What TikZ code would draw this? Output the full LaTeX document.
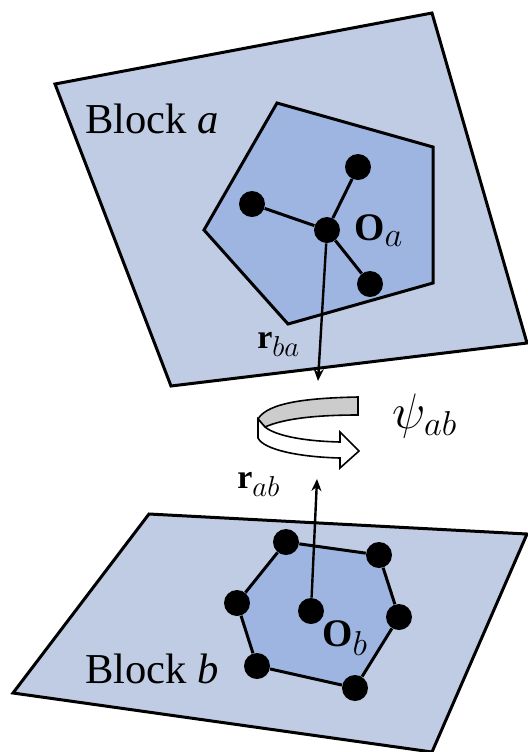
\documentclass[tikz,border=0pt]{standalone}
\usepackage{amsmath, amssymb}
\usepackage{fontspec}
\setmainfont{Liberation Serif}
\usetikzlibrary{arrows.meta}
\DeclareMathSizes{17}{17}{14.5}{10}
\DeclareMathSizes{19.5}{19.5}{16}{10}
\DeclareMathSizes{23}{23}{18}{10}
\definecolor{PlaneBlue}{RGB}{192, 204, 228}
\definecolor{CoreBlue}{RGB}{157, 181, 224}
\definecolor{BandGray}{RGB}{204, 204, 204}
\tikzset{
    edgeline/.style={draw=black, line width=1.5pt, line join=miter},
    atomdot/.style={circle, fill=black, inner sep=0pt, minimum size=13pt},
    bondline/.style={line width=1.5pt},
    vecline/.style={line width=1.2pt, -{Stealth[length=6pt, width=5pt]}},
    bandline/.style={draw=black, line width=0.8pt, line join=miter},
    blocklabel/.style={font=\fontsize{21.3}{25}\selectfont, inner sep=0pt, anchor=base west},
    veclabel/.style={font=\fontsize{17}{20}\selectfont, inner sep=0pt, anchor=base west},
    centerlabel/.style={font=\fontsize{19.5}{23}\selectfont, inner sep=0pt, anchor=base west}
}

\begin{document}
\begin{tikzpicture}[x=0.5pt, y=-0.5pt]
    \useasboundingbox (0, 0) rectangle (527, 752);

    % Block a
    \path[edgeline, fill=PlaneBlue] (55, 84) -- (432, 13) -- (527, 343) -- (171, 386) -- cycle;
    \path[edgeline, fill=CoreBlue] (277, 103) -- (433, 147) -- (433, 283) -- (288, 324) -- (204, 230) -- cycle;
    \node[blocklabel] (labelA) at (85, 133) {Block \textit{a}};

    \node[atomdot] (Oa) at (327, 230) {};
    \node[atomdot] (a1) at (358, 167) {};
    \node[atomdot] (a2) at (252, 204) {};
    \node[atomdot] (a3) at (370, 284) {};
    \draw[bondline] (Oa) -- (a1);
    \draw[bondline] (Oa) -- (a2);
    \draw[bondline] (Oa) -- (a3);
    \node[centerlabel] (labelOa) at (354, 240) {$\mathbf{O}_a$};
    \node[veclabel] (labelRba) at (257, 348) {$\mathbf{r}_{ba}$};

    % Block b
    \path[edgeline, fill=PlaneBlue] (149, 514) -- (527, 534) -- (432, 752) -- (13, 693) -- cycle;
    \path[fill=CoreBlue] (286, 542) -- (379, 555) -- (399, 617) -- (355, 688) -- (257, 666) -- (237, 603) -- cycle;
    \node[blocklabel] (labelB) at (85, 683) {Block \textit{b}};

    \node[atomdot] (b1) at (286, 542) {};
    \node[atomdot] (b2) at (379, 555) {};
    \node[atomdot] (b3) at (399, 617) {};
    \node[atomdot] (b4) at (355, 688) {};
    \node[atomdot] (b5) at (257, 666) {};
    \node[atomdot] (b6) at (237, 603) {};
    \node[atomdot] (Ob) at (311, 611) {};
    \draw[bondline] (b1) -- (b2) -- (b3) -- (b4) -- (b5) -- (b6) -- (b1);
    \node[centerlabel] (labelOb) at (322, 646) {$\mathbf{O}_b$};
    \node[veclabel] (labelRab) at (237, 488) {$\mathbf{r}_{ab}$};

    % Vectors
    \coordinate (tipBa) at (318, 381);
    \coordinate (tipAb) at (317, 479);
    \draw[vecline] (Oa) -- (tipBa);
    \draw[vecline] (Ob) -- (tipAb);

    % Rotation band
    \path[bandline, fill=BandGray] (358, 397) .. controls (310, 398) and (268, 402) .. (258, 419)
        -- (265, 427) .. controls (285, 418) and (320, 415) .. (358, 415) -- cycle;
    \path[bandline, fill=white] (258, 419) -- (258, 438) .. controls (264, 450) and (300, 457) .. (340, 458)
        -- (340, 468) -- (359, 451) -- (340, 432) -- (340, 442)
        .. controls (300, 441) and (275, 435) .. (265, 427) -- cycle;
    \node[font=\fontsize{23}{27}\selectfont, inner sep=0pt, anchor=base west] (labelPsi) at (392, 428) {$\psi_{ab}$};
\end{tikzpicture}
\end{document}
